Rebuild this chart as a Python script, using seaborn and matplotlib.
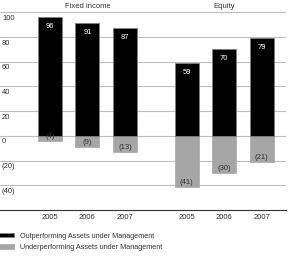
import matplotlib
matplotlib.use("Agg")
import matplotlib.pyplot as plt
import matplotlib.transforms as mtransforms
import seaborn as sns
import pandas as pd
import numpy as np
from matplotlib import font_manager

groups = ["Fixed income", "Equity"]
years = ["2005", "2006", "2007"]
outperforming = [96, 91, 87, 59, 70, 79]
underperforming = [-4, -9, -13, -41, -30, -21]
series_labels = ["Outperforming Assets under Management",
                 "Underperforming Assets under Management"]
yticks = [100, 80, 60, 40, 20, 0, -20, -40]
ytick_labels = ["100", "80", "60", "40", "20", "0", "(20)", "(40)"]

sns.set_theme(style="white")
avail = {f.name for f in font_manager.fontManager.ttflist}
fam = "Liberation Sans Narrow" if "Liberation Sans Narrow" in avail else "Liberation Sans"
plt.rcParams["font.family"] = [fam, "DejaVu Sans"]

# positions: three bars per group, with a wider gap between groups
gap = 1.64
pos = []
for gi, g in enumerate(groups):
    for yi, y in enumerate(years):
        pos.append(gi * (len(years) - 1 + gap) + yi)
pos = np.round(pos, 3)

df_out = pd.DataFrame({"pos": pos, "value": outperforming})
df_under = pd.DataFrame({"pos": pos, "value": underperforming})

fig = plt.figure(figsize=(2.88, 2.56), dpi=100)
ax = fig.add_axes([0, 46 / 256, 286 / 288, 210 / 256])

sns.barplot(data=df_under, x="pos", y="value", native_scale=True, width=0.64,
            color="#a6a6a6", saturation=1, edgecolor="#a6a6a6", linewidth=0.5,
            label=series_labels[1], ax=ax, zorder=3, errorbar=None)
sns.barplot(data=df_out, x="pos", y="value", native_scale=True, width=0.64,
            color="#000000", saturation=1, edgecolor="#7f7f7f", linewidth=0.6,
            label=series_labels[0], ax=ax, zorder=3, errorbar=None)

handles, labels = ax.get_legend_handles_labels()
if ax.get_legend() is not None:
    ax.get_legend().remove()

conts = ax.containers
under_c, out_c = conts[0], conts[1]
t1 = ax.bar_label(out_c, labels=[str(v) for v in outperforming], padding=-9,
                  color="white", fontsize=5.5)
t2 = ax.bar_label(under_c, labels=[f"({-v})" for v in underperforming], padding=-5.5,
                  color="#333333", fontsize=5.5)
for t in list(t1) + list(t2):
    t.set_zorder(6)

ax.set_xlim(-1.33, 6.29)
ax.set_ylim(-60, 110)
ax.set_yticks(yticks)
ax.set_yticklabels([])
ax.set_xticks(pos)
ax.set_xticklabels(years * len(groups))
ax.set_xlabel("")
ax.set_ylabel("")
ax.grid(axis="y", color="#bdbdbd", linewidth=0.8, zorder=0)
ax.set_axisbelow(True)
for s in ["top", "right", "left"]:
    ax.spines[s].set_visible(False)
ax.spines["bottom"].set_color("#333333")
ax.spines["bottom"].set_linewidth(0.8)
ax.tick_params(axis="y", length=0)
ax.tick_params(axis="x", length=0, pad=3, labelsize=5.5, colors="#333333")

# y tick labels sit just below their gridlines, left-aligned
ytrans = mtransforms.blended_transform_factory(ax.transAxes, ax.transData) + \
    mtransforms.ScaledTranslation(2 / 100, -6 / 100, fig.dpi_scale_trans)
for v, lab in zip(yticks, ytick_labels):
    ax.text(0, v, lab, transform=ytrans, ha="left", va="center",
            fontsize=5.5, color="#333333")

for gi, g in enumerate(groups):
    cx = np.mean(pos[gi * 3:(gi + 1) * 3])
    ax.text(cx, 105, g, ha="center", va="center", fontsize=5.5, color="#333333")

order = [labels.index(series_labels[0]), labels.index(series_labels[1])]
fig.legend([handles[i] for i in order], [labels[i] for i in order],
           loc="lower left", bbox_to_anchor=(-0.005, 0.02), frameon=False,
           fontsize=5.2, handlelength=2.1, handleheight=0.6, handletextpad=0.8,
           labelspacing=0.6, borderaxespad=0, borderpad=0, labelcolor="#333333")

fig.savefig("out.png", dpi=100)
